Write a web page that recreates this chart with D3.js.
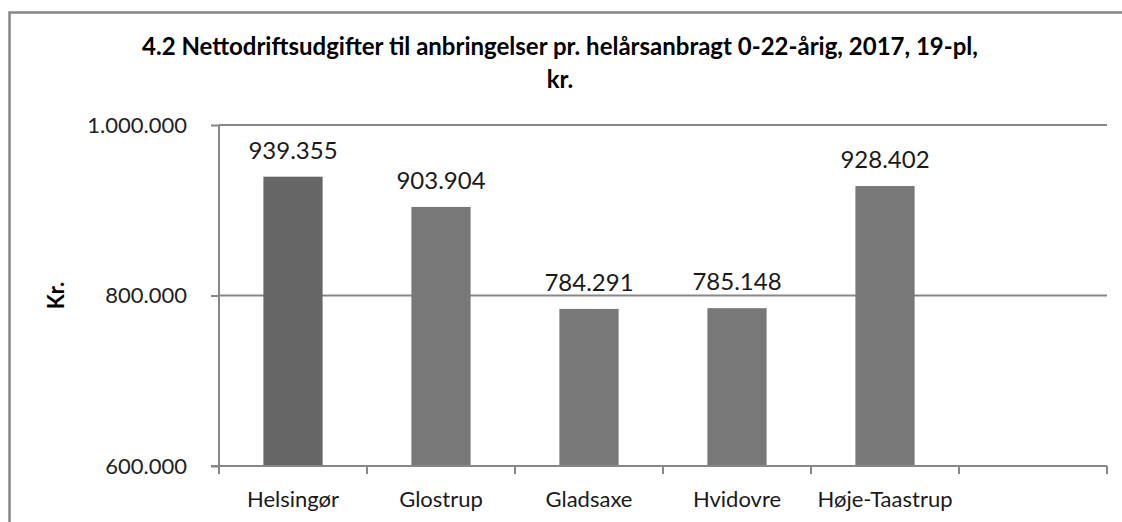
<!DOCTYPE html>
<html>
<head>
<meta charset="utf-8">
<script src="https://cdn.jsdelivr.net/npm/d3@7"></script>
<style>
  html, body { margin: 0; padding: 0; background: #fff; }
  svg { display: block; font-family: Lato, "Open Sans", sans-serif; }
</style>
</head>
<body>
<script>
(function(){
    "use strict";

    // chart data
    const categories = ["Helsingør", "Glostrup", "Gladsaxe", "Hvidovre", "Høje-Taastrup", ""];
    const values = [939355, 903904, 784291, 785148, 928402];
    const barColors = ["#666666", "#787878", "#787878", "#787878", "#787878"];
    const yTicks = [600000, 800000, 1000000];
    const titleLines = ["4.2 Nettodriftsudgifter til anbringelser pr. helårsanbragt 0-22-årig, 2017, 19-pl,", "kr."];
    const yTitle = "Kr.";

    let width = 1122, height = 522;
    let plot = {left: 219, right: 1107, top: 125, bottom: 466};
    const axisColor = "#878787";

    let svg = d3.select("body").append("svg")
        .attr("width", width)
        .attr("height", height);

    // outer chart border (runs off the right and bottom of the picture)
    svg.append("rect")
        .attr("x", 9.5).attr("y", 12.5)
        .attr("width", 1200).attr("height", 600)
        .attr("fill", "none")
        .attr("stroke", "#878787")
        .attr("stroke-width", 2.5);

    let dk = d3.formatLocale({decimal: ",", thousands: ".", grouping: [3], currency: ["", " kr."]});
    let fmt = dk.format(",");

    let x = d3.scaleBand()
        .domain(categories.map((c, i) => i))
        .range([plot.left, plot.right])
        .paddingInner(0.6)
        .paddingOuter(0.3);

    let y = d3.scaleLinear()
        .domain([600000, 1000000])
        .range([plot.bottom, plot.top]);

    // gridlines
    svg.append("g")
        .selectAll("line")
        .data(yTicks.slice(1))
        .join("line")
            .attr("x1", plot.left).attr("x2", plot.right)
            .attr("y1", d => y(d)).attr("y2", d => y(d))
            .attr("stroke", axisColor)
            .attr("stroke-width", 2);

    // y axis
    let yAxis = d3.axisLeft(y)
        .tickValues(yTicks)
        .tickFormat(fmt)
        .tickSize(8)
        .tickPadding(24);

    let gy = svg.append("g")
        .attr("transform", "translate(" + plot.left + ",0)")
        .call(yAxis);
    gy.select(".domain").remove();
    gy.selectAll(".tick line").attr("stroke", axisColor).attr("stroke-width", 2);
    gy.selectAll(".tick text")
        .attr("fill", "#222")
        .style("font-size", "22px")
        .style("font-family", "Lato, sans-serif");
    svg.append("line")
        .attr("x1", plot.left).attr("x2", plot.left)
        .attr("y1", plot.top).attr("y2", plot.bottom + 8)
        .attr("stroke", axisColor).attr("stroke-width", 2);

    // bars
    svg.append("g")
        .selectAll("rect")
        .data(values)
        .join("rect")
            .attr("x", (d, i) => x(i))
            .attr("y", d => y(d))
            .attr("width", x.bandwidth())
            .attr("height", d => y(600000) - y(d))
            .attr("fill", (d, i) => barColors[i]);

    // value labels
    svg.append("g")
        .selectAll("text")
        .data(values)
        .join("text")
            .attr("x", (d, i) => x(i) + x.bandwidth() / 2)
            .attr("y", d => y(d) - 18)
            .attr("text-anchor", "middle")
            .attr("fill", "#1a1a1a")
            .style("font-size", "24px")
            .text(d => fmt(d));

    // x axis line and category boundary ticks
    svg.append("line")
        .attr("x1", plot.left - 8).attr("x2", plot.right)
        .attr("y1", plot.bottom).attr("y2", plot.bottom)
        .attr("stroke", axisColor).attr("stroke-width", 2);

    let step = x.step();
    let bounds = d3.range(categories.length + 1).map(i => plot.left + i * step);
    svg.append("g")
        .selectAll("line")
        .data(bounds)
        .join("line")
            .attr("x1", d => d).attr("x2", d => d)
            .attr("y1", plot.bottom).attr("y2", plot.bottom + 8)
            .attr("stroke", axisColor).attr("stroke-width", 2);

    // category labels
    svg.append("g")
        .selectAll("text")
        .data(categories)
        .join("text")
            .attr("x", (d, i) => x(i) + x.bandwidth() / 2)
            .attr("y", 507)
            .attr("text-anchor", "middle")
            .attr("fill", "#1a1a1a")
            .style("font-size", "22px")
            .text(d => d);

    // title
    svg.append("g")
        .selectAll("text")
        .data(titleLines)
        .join("text")
            .attr("x", 560)
            .attr("y", (d, i) => 55 + i * 33)
            .attr("text-anchor", "middle")
            .attr("fill", "#000")
            .style("font-size", "24px")
            .style("font-weight", "bold")
            .text(d => d);

    // y axis title
    svg.append("text")
        .attr("transform", "translate(64," + ((plot.top + plot.bottom) / 2) + ") rotate(-90)")
        .attr("text-anchor", "middle")
        .attr("fill", "#000")
        .style("font-size", "22px")
        .style("font-weight", "bold")
        .text(yTitle);
})()
</script>
</body>
</html>
